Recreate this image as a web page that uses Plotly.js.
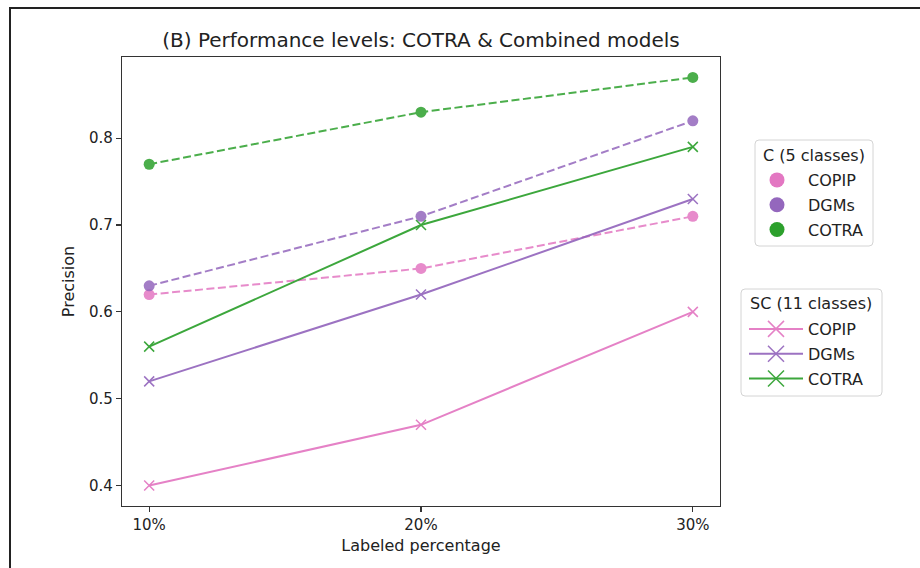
<!DOCTYPE html>
<html>
<head>
<meta charset="utf-8">
<script src="https://cdn.plot.ly/plotly-3.0.1.min.js"></script>
<style>
  html, body { margin: 0; padding: 0; background: #fff; }
  #frame { position: absolute; left: 9px; top: 7px; width: 940px; height: 600px; border: 2px solid #222; box-sizing: border-box; pointer-events: none; z-index: 10; }
  #chart { position: absolute; left: 0; top: 0; width: 920px; height: 568px; }
</style>
</head>
<body>
<div id="chart"></div>
<div id="frame"></div>
<script>
const labeledPct = ['10%', '20%', '30%'];
const models = ['COPIP', 'DGMs', 'COTRA'];
// C (5 classes) precision
const cCOPIP = [0.62, 0.65, 0.71];
const cDGMs  = [0.63, 0.71, 0.82];
const cCOTRA = [0.77, 0.83, 0.87];
// SC (11 classes) precision
const scCOPIP = [0.40, 0.47, 0.60];
const scDGMs  = [0.52, 0.62, 0.73];
const scCOTRA = [0.56, 0.70, 0.79];
const yTicks = [0.4, 0.5, 0.6, 0.7, 0.8];
const legendTitles = ['C (5 classes)', 'SC (11 classes)'];

const colors = {COPIP: '#e377c2', DGMs: '#9467bd', COTRA: '#2ca02c'};
const cSeries = {COPIP: cCOPIP, DGMs: cDGMs, COTRA: cCOTRA};
const scSeries = {COPIP: scCOPIP, DGMs: scDGMs, COTRA: scCOTRA};

const traces = [];
models.forEach(m => {
  traces.push({
    x: labeledPct, y: cSeries[m], type: 'scatter', mode: 'lines+markers',
    line: {color: colors[m], dash: '8px,3.5px', width: 2}, opacity: 0.85,
    marker: {symbol: 'circle', size: 11, color: colors[m]},
    showlegend: false, hoverinfo: 'skip'
  });
});
models.forEach(m => {
  traces.push({
    x: labeledPct, y: scSeries[m], type: 'scatter', mode: 'lines+markers',
    line: {color: colors[m], width: 2}, opacity: 0.92,
    marker: {symbol: 'x-thin', size: 10, color: colors[m], line: {color: colors[m], width: 1.5}},
    showlegend: false, hoverinfo: 'skip'
  });
});
// legend entries
models.forEach(m => {
  traces.push({
    x: [null], y: [null], type: 'scatter', mode: 'markers', name: m,
    marker: {symbol: 'circle', size: 15, color: colors[m]},
    legend: 'legend', legendgroup: 'c' + m, showlegend: true
  });
});
models.forEach(m => {
  traces.push({
    x: [null], y: [null], type: 'scatter', mode: 'lines+markers', name: m,
    line: {color: colors[m], width: 2}, opacity: 0.92,
    marker: {symbol: 'x-thin', size: 20, color: colors[m], line: {color: colors[m], width: 1.5}},
    legend: 'legend2', legendgroup: 'sc' + m, showlegend: true
  });
});

// pixel -> paper helpers (plot area: x 122..720, y 57..506)
const L = 122, W = 598, T = 57, H = 449;
const px = v => (v - L) / W;
const py = v => (T + H - v) / H;
function roundRect(x0, y0, x1, y1, r) {
  const X = px, Y = py;
  return `M ${X(x0 + r)} ${Y(y0)} L ${X(x1 - r)} ${Y(y0)} Q ${X(x1)} ${Y(y0)} ${X(x1)} ${Y(y0 + r)} ` +
         `L ${X(x1)} ${Y(y1 - r)} Q ${X(x1)} ${Y(y1)} ${X(x1 - r)} ${Y(y1)} ` +
         `L ${X(x0 + r)} ${Y(y1)} Q ${X(x0)} ${Y(y1)} ${X(x0)} ${Y(y1 - r)} ` +
         `L ${X(x0)} ${Y(y0 + r)} Q ${X(x0)} ${Y(y0)} ${X(x0 + r)} ${Y(y0)} Z`;
}

const font = {family: 'DejaVu Sans, sans-serif', color: '#262626'};
const layout = {
  width: 920, height: 568,
  paper_bgcolor: '#fff', plot_bgcolor: '#fff',
  margin: {l: 122, r: 200, t: 57, b: 62},
  font: Object.assign({size: 15}, font),
  title: {text: '(B) Performance levels: COTRA &amp; Combined models', xref: 'paper', x: 0.5, xanchor: 'center', y: 1 - 40/568, yanchor: 'middle', font: {size: 20, color: '#222'}},
  xaxis: {
    type: 'category', range: [-0.1, 2.1],
    showline: true, mirror: true, linecolor: '#333', linewidth: 1.2,
    ticks: 'outside', ticklen: 5, tickcolor: '#333', tickwidth: 1.2,
    showgrid: false, zeroline: false,
    tickfont: {size: 15, color: '#222'},
    title: {text: 'Labeled percentage', font: {size: 16, color: '#222'}, standoff: 6}
  },
  yaxis: {
    range: [0.3765, 0.8935], tickvals: yTicks, tickformat: '.1f',
    showline: true, mirror: true, linecolor: '#333', linewidth: 1.2,
    ticks: 'outside', ticklen: 5, tickcolor: '#333', tickwidth: 1.2,
    showgrid: false, zeroline: false,
    tickfont: {size: 15, color: '#222'},
    title: {text: 'Precision', font: {size: 16, color: '#222'}, standoff: 10}
  },
  shapes: [
    {type: 'path', xref: 'paper', yref: 'paper', path: roundRect(755, 140, 873, 246, 4), line: {color: '#d4d4d4', width: 1}, fillcolor: 'rgba(255,255,255,0.8)', layer: 'above'},
    {type: 'path', xref: 'paper', yref: 'paper', path: roundRect(741, 289, 882, 396, 4), line: {color: '#d4d4d4', width: 1}, fillcolor: 'rgba(255,255,255,0.8)', layer: 'above'}
  ],
  annotations: [
    {text: legendTitles[0], xref: 'paper', yref: 'paper', x: px(814), y: py(155), xanchor: 'center', yanchor: 'middle', showarrow: false, font: {size: 16, color: '#222'}},
    {text: legendTitles[1], xref: 'paper', yref: 'paper', x: px(811), y: py(303), xanchor: 'center', yanchor: 'middle', showarrow: false, font: {size: 16, color: '#222'}}
  ],
  legend: {
    x: 746/920, xanchor: 'left', xref: 'container',
    y: 1 - 163/568, yanchor: 'top', yref: 'container',
    bgcolor: 'rgba(0,0,0,0)', borderwidth: 0, itemwidth: 52,
    font: {size: 16, color: '#222'}, tracegroupgap: 1
  },
  legend2: {
    x: 744/920, xanchor: 'left', xref: 'container',
    y: 1 - 312/568, yanchor: 'top', yref: 'container',
    bgcolor: 'rgba(0,0,0,0)', borderwidth: 0, itemwidth: 54,
    font: {size: 16, color: '#222'}, tracegroupgap: 1
  }
};

Plotly.newPlot('chart', traces, layout, {staticPlot: true, displayModeBar: false});
</script>
</body>
</html>
